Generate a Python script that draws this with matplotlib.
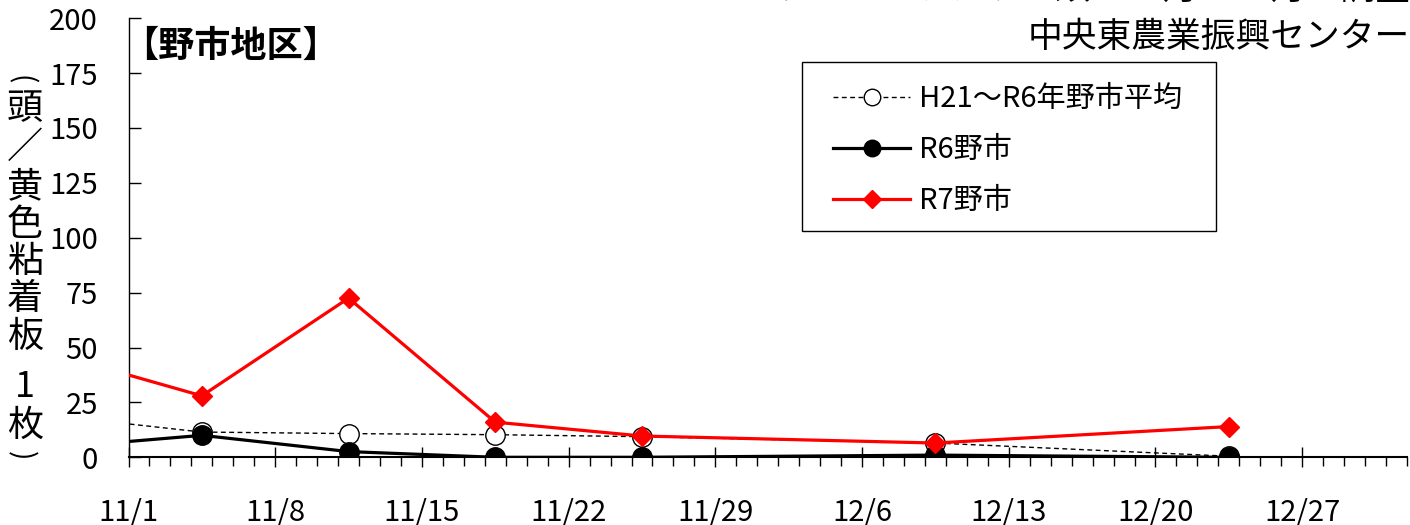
import matplotlib
matplotlib.use("Agg")
import matplotlib.pyplot as plt
from matplotlib.patches import Rectangle
from matplotlib.ticker import FixedLocator, MultipleLocator, NullFormatter

# ── Fonts ──────────────────────────────────────────────────────────────────────
plt.rcParams['font.family'] = ['Noto Sans CJK JP', 'DejaVu Sans']

# ── Data (days counted from 11/1; survey dates sit mid-day) ───────────────────
survey_dates = ['10/28', '11/4', '11/11', '11/18', '11/25', '12/9', '12/23']
survey_days = [-3.5, 3.5, 10.5, 17.5, 24.5, 38.5, 52.5]

avg_h21_r6 = [18.9, 11.5, 10.8, 10.3, 9.4, 6.5, 0.5]   # H21～R6年野市平均
r6_noichi = [4.4, 10.0, 2.6, 0.0, 0.0, 1.0, 0.0]       # R6野市
r7_noichi = [47.0, 28.0, 72.5, 16.0, 9.7, 6.5, 14.0]   # R7野市

tick_days = [0, 7, 14, 21, 28, 35, 42, 49, 56]
tick_labels = ['11/1', '11/8', '11/15', '11/22', '11/29',
               '12/6', '12/13', '12/20', '12/27']
y_ticks = [0, 25, 50, 75, 100, 125, 150, 175, 200]

legend_labels = ['H21～R6年野市平均', 'R6野市', 'R7野市']
ylabel_chars = ['(', '頭', '／', '黄', '色', '粘', '着', '板', '1', '枚', ')']

# ── Figure ─────────────────────────────────────────────────────────────────────
W, H = 1410, 525
fig = plt.figure(figsize=(W / 100, H / 100), dpi=100)
fig.patch.set_facecolor('white')

ax = fig.add_axes([128.5 / W, 1 - 457.3 / H, (1407 - 128.5) / W, (457.3 - 18.2) / H])

ax.plot(survey_days, avg_h21_r6, color='black', lw=1.0, ls=(0, (3.5, 2.5)),
        marker='o', ms=14, mfc='white', mec='black', mew=1.0, zorder=3,
        label=legend_labels[0])
ax.plot(survey_days, r6_noichi, color='black', lw=2.3,
        marker='o', ms=14, mfc='black', mec='black', zorder=4,
        label=legend_labels[1])
ax.plot(survey_days, r7_noichi, color='#ff0000', lw=2.3,
        marker='D', ms=10.5, mfc='#ff0000', mec='#ff0000', zorder=5,
        label=legend_labels[2])

ax.set_xlim(0, 61)
ax.set_ylim(0, 200)

for s in ('top', 'right'):
    ax.spines[s].set_visible(False)
ax.spines['left'].set_linewidth(1.0)
ax.spines['bottom'].set_linewidth(1.5)

ax.yaxis.set_major_locator(FixedLocator(y_ticks))
ax.tick_params(axis='y', direction='in', length=8.5, width=1.0,
               pad=22, labelsize=21)

ax.xaxis.set_major_locator(FixedLocator(tick_days))
ax.set_xticklabels(tick_labels)
ax.xaxis.set_minor_locator(MultipleLocator(1))
ax.xaxis.set_minor_formatter(NullFormatter())
ax.tick_params(axis='x', which='major', direction='inout', length=14,
               width=1.0, pad=22, labelsize=21)
ax.tick_params(axis='x', which='minor', direction='out', length=6.5, width=1.0)

# ── Legend (entries without frame, box drawn separately) ──────────────────────
leg = ax.legend(loc='center left', bbox_to_anchor=(833 / W, 1 - 150 / H),
                bbox_transform=fig.transFigure, borderaxespad=0, borderpad=0,
                fontsize=21, frameon=False, handlelength=2.65,
                handletextpad=0.3, labelspacing=0.72, markerscale=0.85)
fig.patches.append(Rectangle((801.7 / W, 1 - 230.7 / H), (1215.7 - 801.7) / W,
                             (230.7 - 62.3) / H, transform=fig.transFigure,
                             fill=False, edgecolor='black', lw=1.0))

# ── Texts ──────────────────────────────────────────────────────────────────────
fig.text(122 / W, 1 - 46 / H, '【野市地区】', ha='left', va='center',
         fontsize=26, fontweight='bold')
fig.text(1410 / W, 1 - 37 / H, '中央東農業振興センター', ha='right', va='center',
         fontsize=25)
fig.text(1410 / W, 1 + 11 / H, 'タバココナジラミ類　11月～12月の調査', ha='right',
         va='center', fontsize=25)

# vertical axis title, one character per row (brackets turned sideways)
ylabel_y = [80, 109, 148, 187, 225, 262, 299, 337, 387, 426, 456]
for ch, yy in zip(ylabel_chars, ylabel_y):
    if ch in '()':
        fig.text(20 / W, 1 - yy / H, ch, ha='center', va='center',
                 fontsize=20, rotation=-90)
    else:
        fig.text(25 / W, 1 - yy / H, ch, ha='center', va='center', fontsize=26)

fig.savefig('out.png', dpi=100)
